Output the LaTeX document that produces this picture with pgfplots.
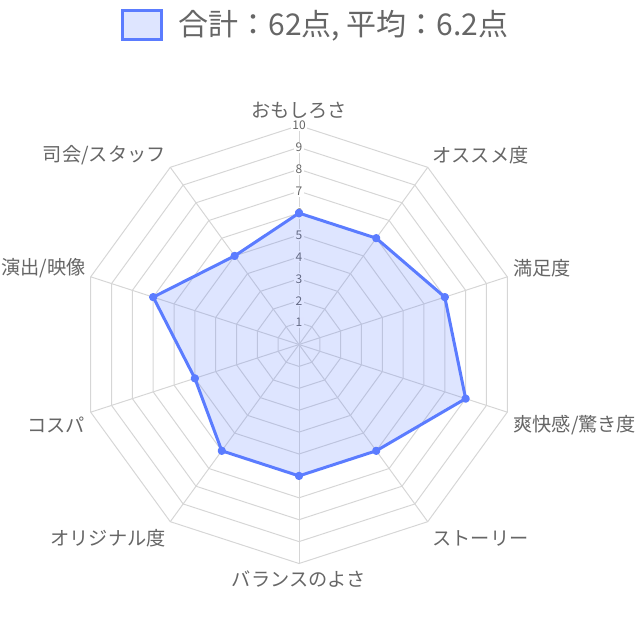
\documentclass[border=0pt]{standalone}
\usepackage{pgfplots}
\pgfplotsset{compat=1.18}
\usepackage{pgfplotstable}
\usepackage{fontspec}
\setmainfont{Noto Sans CJK JP}
\definecolor{lineblue}{RGB}{91,124,255}
\definecolor{gridgray}{RGB}{214,214,214}
\definecolor{txt}{RGB}{102,102,102}

% angle (deg), score
\pgfplotstableread{
a v
90 6
54 6
18 7
-18 8
-54 6
-90 6
-126 6
-162 5
162 7
126 5
90 6
}\scores

\pgfplotstableread{
a d
90 0
54 0
18 0
-18 0
-54 0
-90 0
-126 0
-162 0
162 0
126 0
90 0
}\ring

\pgfplotstableread{
r d
0 0
10 0
}\spoke

\newcommand{\lbl}{\fontsize{9.6pt}{11pt}\selectfont}

\begin{document}
\begin{tikzpicture}[x=0.5pt,y=-0.5pt]
\coordinate (C) at (299,344.5);
\begin{axis}[at={(C)},anchor=origin,x=10.95pt,y=10.95pt,
  xmin=-10.5,xmax=10.5,ymin=-10.5,ymax=10.5,hide axis,clip=false]
\pgfplotsinvokeforeach{1,...,10}{
  \addplot[gridgray,line width=0.5pt,no marks] table[x expr={#1*cos(\thisrow{a})},y expr={#1*sin(\thisrow{a})}] {\ring};
}
\pgfplotsinvokeforeach{90,54,18,-18,-54,-90,-126,-162,162,126}{
  \addplot[gridgray,line width=0.5pt,no marks] table[x expr={\thisrow{r}*cos(#1)},y expr={\thisrow{r}*sin(#1)}] {\spoke};
}
\pgfplotsinvokeforeach{1,...,10}{
  \node[fill=white,inner sep=0.6pt,text=txt,font=\fontsize{6pt}{7pt}\selectfont] at (axis cs:0,#1) {#1};
}
\addplot[lineblue,line width=1.5pt,line join=round,fill=lineblue,fill opacity=0.2,
  mark=*,mark size=1.3pt,mark options={fill=lineblue,fill opacity=1,draw opacity=1}]
  table[x expr={\thisrow{v}*cos(\thisrow{a})},y expr={\thisrow{v}*sin(\thisrow{a})}] {\scores};
\end{axis}

% legend
\draw[lineblue,line width=1.5pt,fill=lineblue!20] (122.2,10.8) rectangle (161.2,39.5);
\node[anchor=west,inner sep=0,text=txt,font=\fontsize{15pt}{16pt}\selectfont] at (178,26) {合計：62点, 平均：6.2点};

% axis labels
\node[anchor=center,inner sep=0,text=txt,font=\lbl] at (299,110) {おもしろさ};
\node[anchor=west,inner sep=0,text=txt,font=\lbl] at (432,155) {オススメ度};
\node[anchor=west,inner sep=0,text=txt,font=\lbl] at (513,268) {満足度};
\node[anchor=west,inner sep=0,text=txt,font=\lbl] at (513,425) {爽快感/驚き度};
\node[anchor=west,inner sep=0,text=txt,font=\lbl] at (432,538) {ストーリー};
\node[anchor=center,inner sep=0,text=txt,font=\lbl] at (299,579) {バランスのよさ};
\node[anchor=east,inner sep=0,text=txt,font=\lbl] at (166,538) {オリジナル度};
\node[anchor=east,inner sep=0,text=txt,font=\lbl] at (85,425) {コスパ};
\node[anchor=east,inner sep=0,text=txt,font=\lbl] at (86,268) {演出/映像};
\node[anchor=east,inner sep=0,text=txt,font=\lbl] at (166,155) {司会/スタッフ};

\pgfresetboundingbox
\path[use as bounding box] (0,0) rectangle (640,640);
\end{tikzpicture}
\end{document}
